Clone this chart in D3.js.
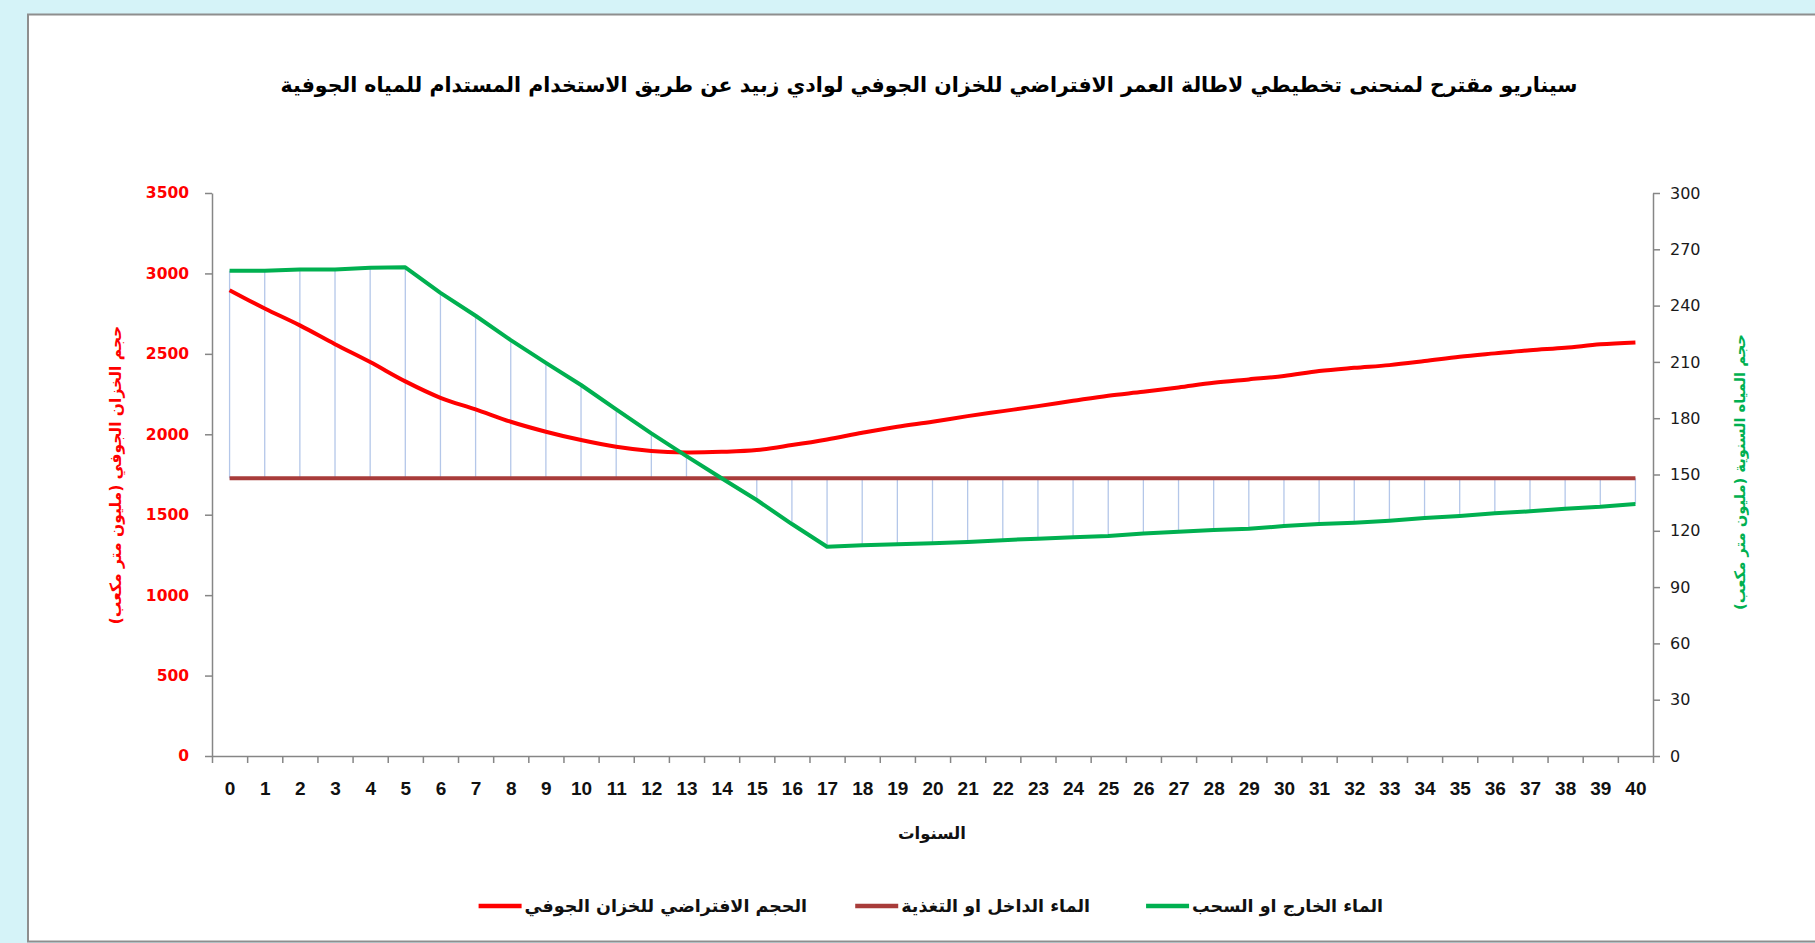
<!DOCTYPE html>
<html>
<head>
<meta charset="utf-8">
<script src="https://cdnjs.cloudflare.com/ajax/libs/d3/7.8.5/d3.min.js"></script>
<style>
  body { margin: 0; background: #d5f3f8; }
  svg { display: block; }
  .axis path, .axis line { stroke: #868686; stroke-width: 1.5; }
  .ar { font-family: "DejaVu Sans", sans-serif; font-weight: bold; }
</style>
</head>
<body>
<div id="chart"></div>
<script>
// years on x axis
var years = d3.range(0, 41);

// الحجم الافتراضي للخزان الجوفي (left axis, million m3)
var storage = [2896, 2782, 2677, 2560, 2449, 2329, 2227, 2155, 2078, 2016,
               1964, 1922, 1896, 1887, 1891, 1902, 1933, 1968, 2009, 2047,
               2078, 2113, 2144, 2175, 2208, 2240, 2264, 2291, 2320, 2341,
               2362, 2393, 2413, 2430, 2455, 2482, 2503, 2523, 2538, 2559, 2571];

// الماء الداخل او التغذية (right axis)
var inflow = years.map(function() { return 148; });

// الماء الخارج او السحب (right axis)
var outflow = [258.6, 258.6, 259.3, 259.3, 260.2, 260.4, 246.8, 234.6, 221.6, 209.5,
               197.7, 184.7, 171.9, 159.8, 148.0, 136.4, 123.6, 111.5, 112.3, 112.8,
               113.3, 114.0, 115.0, 115.8, 116.5, 117.2, 118.6, 119.5, 120.4, 121.1,
               122.5, 123.6, 124.3, 125.4, 126.8, 127.9, 129.3, 130.4, 131.8, 132.8, 134.3];

var leftTicks = d3.range(0, 3501, 500);
var rightTicks = d3.range(0, 301, 30);

var title = "سيناريو مقترح لمنحنى تخطيطي لاطالة العمر الافتراضي للخزان الجوفي لوادي زبيد عن طريق الاستخدام المستدام للمياه الجوفية";
var leftTitle = "حجم الخزان الجوفي (مليون متر مكعب)";
var rightTitle = "حجم المياه السنوية (مليون متر مكعب)";
var xTitle = "السنوات";
var legendNames = ["الحجم الافتراضي للخزان الجوفي", "الماء الداخل او التغذية", "الماء الخارج او السحب"];
var colors = { storage: "#ff0000", inflow: "#a83c3a", outflow: "#00b050", drop: "#b4c7e9" };

var W = 1815, H = 943;
var plot = { left: 212, right: 1653, top: 193, bottom: 756 };

var svg = d3.select("#chart").append("svg")
    .attr("width", W)
    .attr("height", H);

// white chart panel
svg.append("rect")
    .attr("x", 28).attr("y", 14.5)
    .attr("width", W).attr("height", 927)
    .attr("fill", "#fff")
    .attr("stroke", "#8e8e8e")
    .attr("stroke-width", 2);

var x = d3.scalePoint().domain(years).range([plot.left, plot.right]).padding(0.5);
var xb = d3.scaleLinear().domain([-0.5, 40.5]).range([plot.left, plot.right]);
var yL = d3.scaleLinear().domain([0, 3500]).range([plot.bottom, plot.top]);
var yR = d3.scaleLinear().domain([0, 300]).range([plot.bottom, plot.top]);

// title
svg.append("text")
    .attr("class", "ar")
    .attr("x", 929).attr("y", 92)
    .attr("text-anchor", "middle")
    .attr("direction", "rtl")
    .style("font-size", "20.5px")
    .text(title);

// high-low (drop) lines between inflow and outflow
svg.append("g").selectAll("line")
    .data(years)
    .enter().append("line")
    .attr("x1", function(d) { return x(d); })
    .attr("x2", function(d) { return x(d); })
    .attr("y1", function(d, i) { return yR(inflow[i]); })
    .attr("y2", function(d, i) { return yR(outflow[i]); })
    .attr("stroke", colors.drop)
    .attr("stroke-width", 1.3);

// axes
var gL = svg.append("g")
    .attr("class", "axis")
    .attr("transform", "translate(" + plot.left + ",0)")
    .call(d3.axisLeft(yL).tickValues(leftTicks).tickFormat(d3.format("d"))
        .tickSize(7).tickPadding(16).tickSizeOuter(0));
gL.selectAll("text")
    .attr("fill", "#ff0000")
    .style("font-family", "DejaVu Sans, sans-serif")
    .style("font-weight", "bold")
    .style("font-size", "15.5px");

var gR = svg.append("g")
    .attr("class", "axis")
    .attr("transform", "translate(" + plot.right + ",0)")
    .call(d3.axisRight(yR).tickValues(rightTicks).tickSize(7).tickPadding(10).tickSizeOuter(0));
gR.selectAll("text")
    .attr("fill", "#1a1a1a")
    .style("font-family", "DejaVu Sans, sans-serif")
    .style("font-size", "16px");

var gX = svg.append("g")
    .attr("class", "axis")
    .attr("transform", "translate(0," + plot.bottom + ")")
    .call(d3.axisBottom(xb).tickValues(d3.range(-0.5, 41, 1)).tickSize(7).tickFormat("").tickSizeOuter(0));

var gXl = svg.append("g")
    .attr("transform", "translate(0," + plot.bottom + ")")
    .call(d3.axisBottom(x).tickSize(0).tickPadding(26));
gXl.select(".domain").remove();
gXl.selectAll("text")
    .attr("fill", "#111")
    .style("font-family", "'Liberation Sans Narrow', 'Liberation Sans', sans-serif")
    .style("font-weight", "bold")
    .style("font-size", "19px");

// axis titles
svg.append("text")
    .attr("class", "ar")
    .attr("transform", "translate(121,475) rotate(-90)")
    .attr("text-anchor", "middle")
    .attr("direction", "rtl")
    .attr("fill", "#ff0000")
    .style("font-size", "15.5px")
    .text(leftTitle);

svg.append("text")
    .attr("class", "ar")
    .attr("transform", "translate(1745,472) rotate(-90)")
    .attr("text-anchor", "middle")
    .attr("direction", "rtl")
    .attr("fill", colors.outflow)
    .style("font-size", "14.7px")
    .text(rightTitle);

svg.append("text")
    .attr("class", "ar")
    .attr("x", 932).attr("y", 839)
    .attr("text-anchor", "middle")
    .attr("direction", "rtl")
    .attr("fill", "#111")
    .style("font-size", "16.5px")
    .text(xTitle);

// series
var lineL = d3.line()
    .x(function(d, i) { return x(years[i]); })
    .y(function(d) { return yL(d); })
    .curve(d3.curveCatmullRom);

var lineR = d3.line()
    .x(function(d, i) { return x(years[i]); })
    .y(function(d) { return yR(d); });

svg.append("path")
    .datum(storage)
    .attr("fill", "none")
    .attr("stroke", colors.storage)
    .attr("stroke-width", 4)
    .attr("d", lineL);

svg.append("path")
    .datum(inflow)
    .attr("fill", "none")
    .attr("stroke", colors.inflow)
    .attr("stroke-width", 4)
    .attr("d", lineR);

svg.append("path")
    .datum(outflow)
    .attr("fill", "none")
    .attr("stroke", colors.outflow)
    .attr("stroke-width", 4)
    .attr("stroke-linejoin", "round")
    .attr("d", lineR);

// legend (RTL: line sample left of the text)
var legendColors = [colors.storage, colors.inflow, colors.outflow];
var legendRight = [807, 1090, 1383];
var legend = svg.append("g");
legendNames.forEach(function(name, i) {
    var t = legend.append("text")
        .attr("class", "ar")
        .attr("x", legendRight[i]).attr("y", 912)
        .attr("text-anchor", "end")
        .attr("direction", "ltr")
        .attr("fill", "#111")
        .style("font-size", "17.5px")
        .text(name);
    var w = t.node().getComputedTextLength();
    legend.append("line")
        .attr("x1", legendRight[i] - w - 46).attr("x2", legendRight[i] - w - 3)
        .attr("y1", 906).attr("y2", 906)
        .attr("stroke", legendColors[i])
        .attr("stroke-width", 4.5);
});
</script>
</body>
</html>
